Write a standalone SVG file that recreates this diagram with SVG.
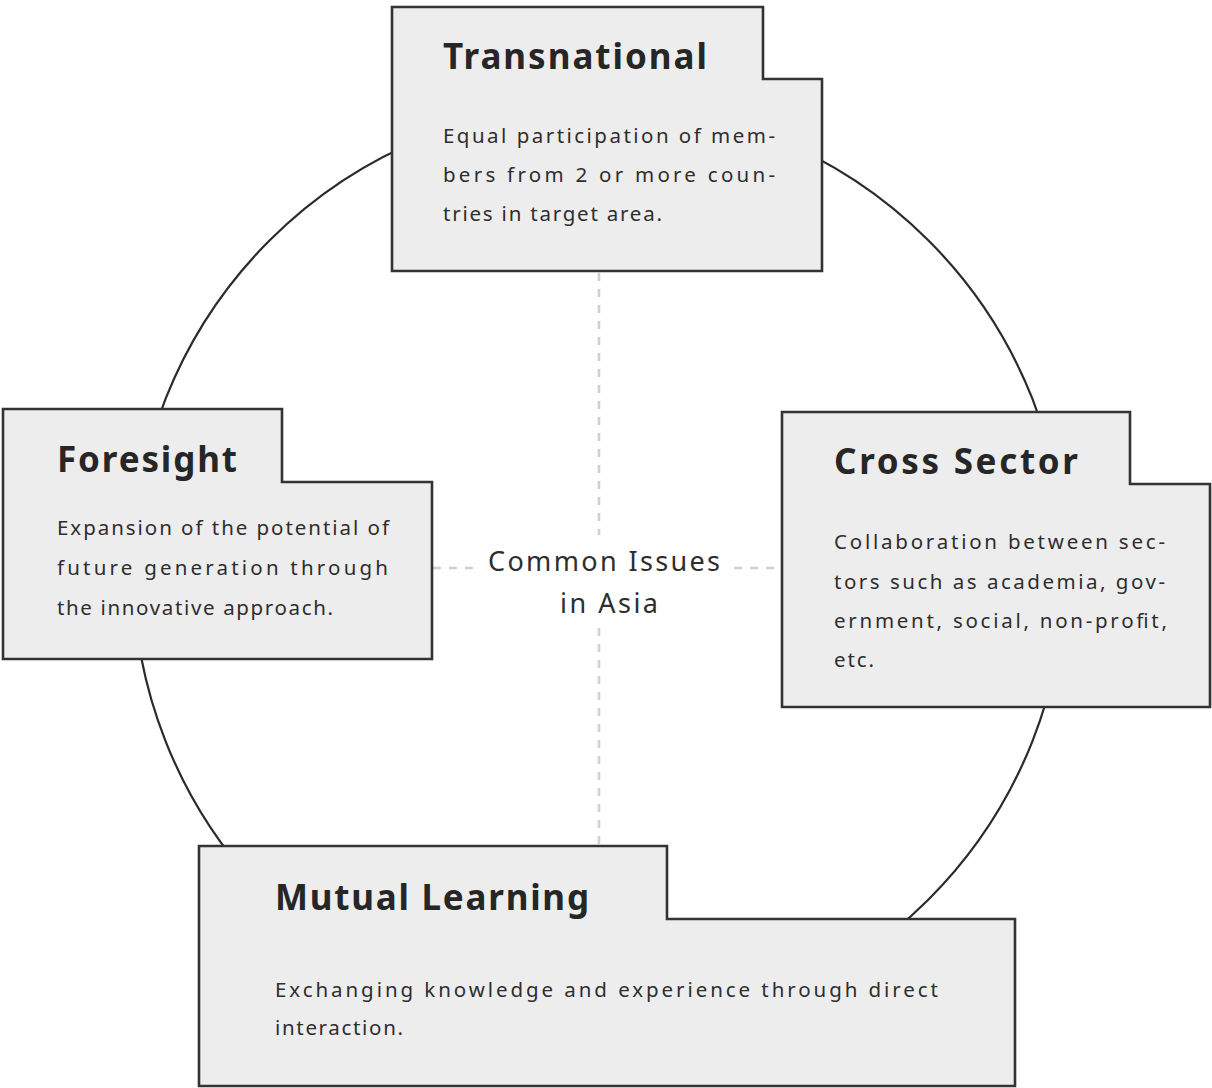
<svg xmlns="http://www.w3.org/2000/svg" width="1212" height="1088" viewBox="0 0 1212 1088">
<style>
.box{fill:#ededed;stroke:#333;stroke-width:2.6;stroke-linejoin:miter}
.ring{fill:none;stroke:#2b2b2b;stroke-width:2.2}
.dash{stroke:#cfcfcf;stroke-width:2.6;stroke-dasharray:8 8;fill:none}
.title{font-family:"Noto Sans","Liberation Sans",sans-serif;font-weight:700;font-size:35px;fill:#262626}
.body{font-family:"Noto Sans","Liberation Sans",sans-serif;font-size:20.5px;fill:#2e2e2e}
.center{font-family:"Noto Sans","Liberation Sans",sans-serif;font-size:27px;fill:#2e2e2e}
</style>
<rect width="1212" height="1088" fill="#fff"/>
<circle class="ring" cx="599" cy="570" r="466"/>
<g id="connectors">
<line class="dash" x1="599" y1="273" x2="599" y2="535"/>
<line class="dash" x1="599" y1="628" x2="599" y2="845"/>
<line class="dash" x1="433" y1="568" x2="476" y2="568"/>
<line class="dash" x1="734" y1="568" x2="781" y2="568"/>
</g>
<g id="center">
<text class="center" x="488" y="571" textLength="232" lengthAdjust="spacing">Common Issues</text>
<text class="center" x="560" y="613" textLength="98" lengthAdjust="spacing">in Asia</text>
</g>
<g id="transnational">
<path class="box" d="M392,7 H763 V79 H822 V271 H392 Z"/>
<text class="title" x="443" y="69" textLength="264" lengthAdjust="spacing">Transnational</text>
<text class="body" x="443" y="143" textLength="332" lengthAdjust="spacing">Equal participation of mem-</text>
<text class="body" x="443" y="182" textLength="332" lengthAdjust="spacing">bers from 2 or more coun-</text>
<text class="body" x="443" y="221" textLength="219" lengthAdjust="spacing">tries in target area.</text>
</g>
<g id="foresight">
<path class="box" d="M3,409 H282 V482 H432 V659 H3 Z"/>
<text class="title" x="57" y="472" textLength="180" lengthAdjust="spacing">Foresight</text>
<text class="body" x="57" y="535" textLength="332" lengthAdjust="spacing">Expansion of the potential of</text>
<text class="body" x="57" y="575" textLength="331" lengthAdjust="spacing">future generation through</text>
<text class="body" x="57" y="615" textLength="276" lengthAdjust="spacing">the innovative approach.</text>
</g>
<g id="cross-sector">
<path class="box" d="M782,412 H1130 V484 H1210 V707 H782 Z"/>
<text class="title" x="834" y="474" textLength="244" lengthAdjust="spacing">Cross Sector</text>
<text class="body" x="834" y="549" textLength="331" lengthAdjust="spacing">Collaboration between sec-</text>
<text class="body" x="834" y="589" textLength="331" lengthAdjust="spacing">tors such as academia, gov-</text>
<text class="body" x="834" y="628" textLength="333" lengthAdjust="spacing">ernment, social, non-profit,</text>
<text class="body" x="834" y="667" textLength="40" lengthAdjust="spacing">etc.</text>
</g>
<g id="mutual-learning">
<path class="box" d="M199,846 H667 V919 H1015 V1086 H199 Z"/>
<text class="title" x="275" y="910" textLength="314" lengthAdjust="spacing">Mutual Learning</text>
<text class="body" x="275" y="997" textLength="663" lengthAdjust="spacing">Exchanging knowledge and experience through direct</text>
<text class="body" x="275" y="1035" textLength="128" lengthAdjust="spacing">interaction.</text>
</g>
</svg>
